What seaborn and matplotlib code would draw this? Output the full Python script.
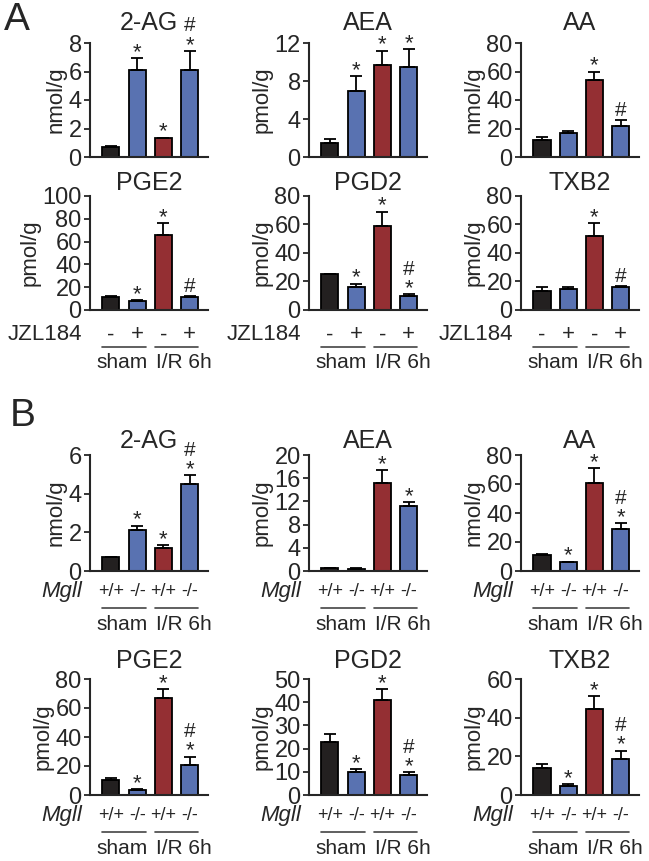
# ============================================================
# Endocannabinoid / eicosanoid levels, JZL184 (A) and Mgll KO (B)
# ============================================================

import numpy as np
import pandas as pd
import matplotlib
matplotlib.use("Agg")
import matplotlib.pyplot as plt
import matplotlib.transforms as mtransforms
import seaborn as sns

sns.set_style("ticks")
plt.rcParams["font.family"] = ["Liberation Sans", "DejaVu Sans"]

# ============================================================
# DATA
# ============================================================

groups = ["sham_ctrl", "sham_trt", "ir_ctrl", "ir_trt"]
bar_colors = ["#231f20", "#4a6cc0", "#a51e23", "#4a6cc0"]

titles = ["2-AG", "AEA", "AA", "PGE2", "PGD2", "TXB2"]

# panel A : JZL184
units_A = ["nmol/g", "pmol/g", "nmol/g", "pmol/g", "pmol/g", "pmol/g"]
ymax_A = [8, 12, 80, 100, 80, 80]
ystep_A = [2, 4, 20, 20, 20, 20]
means_A = [
    [0.7, 6.1, 1.3, 6.1],
    [1.5, 7.0, 9.7, 9.5],
    [12.0, 16.5, 54.0, 22.0],
    [11.5, 7.5, 66.0, 11.0],
    [25.0, 16.0, 59.0, 9.5],
    [13.0, 15.0, 52.0, 16.0],
]
sem_A = [
    [0.05, 0.85, 0.06, 1.35],
    [0.4, 1.5, 1.5, 1.9],
    [2.0, 2.0, 6.0, 4.0],
    [0.5, 1.0, 10.0, 1.0],
    [0.5, 2.5, 10.0, 1.5],
    [3.0, 1.0, 9.0, 1.0],
]
marks_A = [
    ["", "*", "*", "*#"],
    ["", "*", "*", "*"],
    ["", "", "*", "#"],
    ["", "*", "*", "#"],
    ["", "*", "*", "*#"],
    ["", "", "*", "#"],
]
jzl_labels = ["-", "+", "-", "+"]

# panel B : Mgll knockout
units_B = ["nmol/g", "pmol/g", "nmol/g", "pmol/g", "pmol/g", "pmol/g"]
ymax_B = [6, 20, 80, 80, 50, 60]
ystep_B = [2, 4, 20, 20, 10, 20]
means_B = [
    [0.7, 2.1, 1.2, 4.5],
    [0.5, 0.4, 15.2, 11.2],
    [11.0, 6.0, 61.0, 29.0],
    [10.5, 3.5, 67.0, 21.0],
    [23.0, 9.8, 41.0, 8.5],
    [14.0, 4.5, 44.5, 18.5],
]
sem_B = [
    [0.05, 0.25, 0.15, 0.45],
    [0.1, 0.05, 2.2, 0.7],
    [1.0, 0.5, 10.0, 4.0],
    [1.5, 0.5, 6.0, 5.5],
    [3.5, 1.5, 4.5, 1.3],
    [2.0, 1.0, 6.5, 4.5],
]
marks_B = [
    ["", "*", "*", "*#"],
    ["", "", "*", "*"],
    ["", "*", "*", "*#"],
    ["", "*", "*", "*#"],
    ["", "*", "*", "*#"],
    ["", "*", "*", "*#"],
]
mgll_labels = ["+/+", "-/-", "+/+", "-/-"]

# ============================================================
# LAYOUT (pixels)
# ============================================================

W, H = 649, 861
col_left = [90, 309, 521]
ax_w = 118
rows = [(43, 157), (196, 310), (455, 571), (679, 795)]
title_pad = [9, 4, 5, 8]

fig = plt.figure(figsize=(W / 100, H / 100), dpi=100)


def draw_panel(ax, title, unit, ymax, ystep, means, errs, marks, tpad,
               ticklabels=None, factor=None, italic=False,
               tick_off=25, tick_size=14):
    df = pd.DataFrame({"group": groups, "value": means})
    sns.barplot(
        data=df, x="group", y="value", hue="group", order=groups,
        hue_order=groups, palette=dict(zip(groups, bar_colors)),
        legend=False, width=0.65, edgecolor="black", linewidth=1.3,
        errorbar=None, ax=ax,
    )
    ax.errorbar(range(4), means, yerr=[np.zeros(4), errs], fmt="none",
                ecolor="black", elinewidth=1.3, capsize=4.5, capthick=1.3)

    ax.set_xlim(-0.8, 3.7)
    ax.set_ylim(0, ymax)
    ax.set_yticks(np.arange(0, ymax + ystep / 2, ystep))
    ax.set_title(title, fontsize=18, pad=tpad)
    ax.set_ylabel(unit, fontsize=16, labelpad=1)
    ax.set_xlabel("")
    sns.despine(ax=ax)
    for s in ["left", "bottom"]:
        ax.spines[s].set_linewidth(1.5)
    ax.tick_params(axis="y", length=4, width=1.3, labelsize=17, pad=2)

    # significance marks
    for i, m in enumerate(marks):
        top = means[i] + errs[i]
        if "*" in m:
            ax.annotate("*", xy=(i, top), xytext=(0, 0),
                        textcoords="offset points", ha="center",
                        va="baseline", fontsize=16)
        if "#" in m:
            off = 14 if "*" in m else 3
            ax.annotate("#", xy=(i, top), xytext=(0, off),
                        textcoords="offset points", ha="center",
                        va="baseline", fontsize=15)

    if ticklabels is None:
        ax.set_xticks([])
        return

    ax.set_xticks(range(4))
    ax.set_xticklabels(ticklabels, fontsize=tick_size)
    ax.tick_params(axis="x", length=0, pad=0)
    for t in ax.get_xticklabels():
        t.set_va("center")
        t.set_transform(mtransforms.offset_copy(
            ax.get_xaxis_transform(), fig=fig, y=-tick_off, units="dots"))

    lab = mtransforms.offset_copy(ax.transAxes, fig=fig, x=-8,
                                  y=-tick_off, units="dots")
    ax.text(0, 0, factor, transform=lab, ha="right", va="center",
            fontsize=16, style="italic" if italic else "normal")

    line_tr = mtransforms.offset_copy(ax.get_xaxis_transform(), fig=fig,
                                      y=-37, units="dots")
    for x0 in [0, 2]:
        ax.plot([x0 - 0.33, x0 + 1.33], [0, 0], color="#444444", lw=1.2,
                transform=line_tr, clip_on=False)
    txt_tr = mtransforms.offset_copy(ax.get_xaxis_transform(), fig=fig,
                                     y=-53, units="dots")
    ax.text(0.42, 0, "sham", transform=txt_tr, ha="center", va="center",
            fontsize=15)
    ax.text(2.78, 0, "I/R 6h", transform=txt_tr, ha="center", va="center",
            fontsize=15)


def make_ax(r, c):
    top, bot = rows[r]
    return fig.add_axes([col_left[c] / W, 1 - bot / H, ax_w / W, (bot - top) / H])


# ============================================================
# PANEL A
# ============================================================

for k in range(6):
    r, c = divmod(k, 3)
    ax = make_ax(r, c)
    draw_panel(ax, titles[k], units_A[k], ymax_A[k], ystep_A[k],
               means_A[k], sem_A[k], marks_A[k], title_pad[r],
               ticklabels=jzl_labels if r == 1 else None,
               factor="JZL184", tick_off=25, tick_size=16)

# ============================================================
# PANEL B
# ============================================================

for k in range(6):
    r, c = divmod(k, 3)
    ax = make_ax(r + 2, c)
    draw_panel(ax, titles[k], units_B[k], ymax_B[k], ystep_B[k],
               means_B[k], sem_B[k], marks_B[k], title_pad[r + 2],
               ticklabels=mgll_labels, factor="Mgll", italic=True,
               tick_off=21, tick_size=13)

fig.text(4 / W, 1 - 2 / H, "A", fontsize=28, va="top", ha="left")
fig.text(10 / W, 1 - 398 / H, "B", fontsize=28, va="top", ha="left")

fig.savefig("out.png", dpi=100)
